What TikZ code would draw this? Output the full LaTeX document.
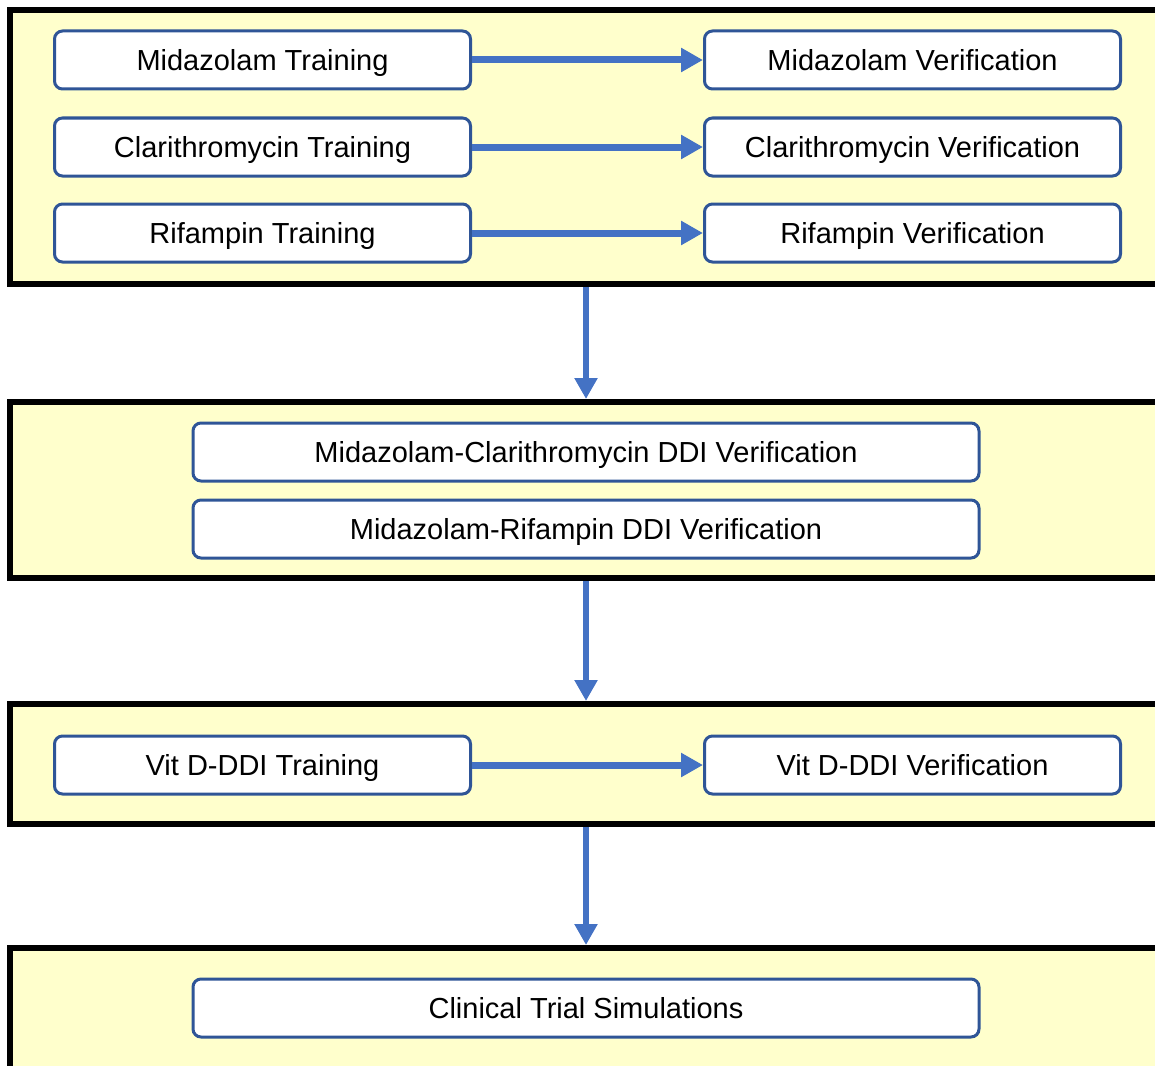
\documentclass[tikz,border=0pt]{standalone}
\usepackage{fontspec}
\setmainfont{Liberation Sans}
\usetikzlibrary{arrows.meta}
\definecolor{paleyellow}{HTML}{FFFFCC}
\definecolor{boxblue}{HTML}{2F5597}
\definecolor{arrowblue}{HTML}{4472C4}
\tikzset{
	frame/.style={draw=black, fill=paleyellow, line width=3pt, rectangle, minimum height=#1},
	stepbox/.style={draw=boxblue, fill=white, line width=1.5pt, rounded corners=4pt, minimum width=208pt, minimum height=29pt, text height=13pt, text depth=2.6pt, font=\fontsize{14.5}{17}\selectfont},
	widebox/.style={stepbox, minimum width=393pt},
	across/.style={draw=arrowblue, line width=3.5pt, -{Triangle[length=11pt,width=11.5pt]}},
	down/.style={draw=arrowblue, line width=2.75pt, -{Triangle[length=10.5pt,width=11pt]}}
}

\begin{document}
\begin{tikzpicture}[x=0.5pt, y=-0.5pt]
			%%%%% START %%%%%
			\useasboundingbox (0, 0) rectangle (1155, 1065);
			\clip (0, 0) rectangle (1155, 1065);
			
			\node[frame=137pt, minimum width=620pt] (f1) at (630, 147) {};
			\node[frame=88pt, minimum width=620pt] (f2) at (630, 490) {};
			\node[frame=60pt, minimum width=620pt] (f3) at (630, 764) {};
			\node[frame=101pt, minimum width=620pt] (f4) at (630, 1049) {};
			
			\node[stepbox] (mt) at (262.5, 60) {Midazolam Training};
			\node[stepbox] (mv) at (912.5, 60) {Midazolam Verification};
			\node[stepbox] (ct) at (262.5, 147) {Clarithromycin Training};
			\node[stepbox] (cv) at (912.5, 147) {Clarithromycin Verification};
			\node[stepbox] (rt) at (262.5, 233) {Rifampin Training};
			\node[stepbox] (rv) at (912.5, 233) {Rifampin Verification};
			
			\node[widebox] (mcv) at (586, 452) {Midazolam-Clarithromycin DDI Verification};
			\node[widebox] (mrv) at (586, 529) {Midazolam-Rifampin DDI Verification};
			
			\node[stepbox] (vt) at (262.5, 765) {Vit D-DDI Training};
			\node[stepbox] (vv) at (912.5, 765) {Vit D-DDI Verification};
			
			\node[widebox] (cts) at (586, 1008) {Clinical Trial Simulations};
			
			\draw[across] (mt.east) -- (mv.west);
			\draw[across] (ct.east) -- (cv.west);
			\draw[across] (rt.east) -- (rv.west);
			\draw[across] (vt.east) -- (vv.west);
			
			\draw[down] (f1.south -| mcv.north) -- (f2.north -| mcv.north);
			\draw[down] (f2.south -| mrv.south) -- (f3.north -| mrv.south);
			\draw[down] (f3.south -| cts.north) -- (f4.north -| cts.north);
			
			%%%%% END %%%%%
\end{tikzpicture}
\end{document}
